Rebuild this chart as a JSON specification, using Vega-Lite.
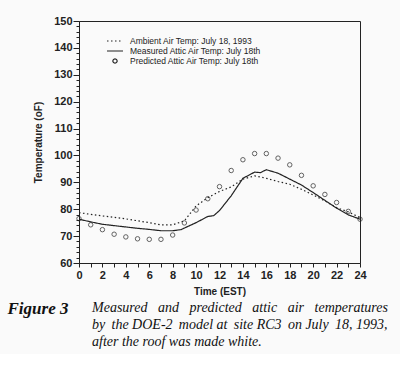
{
  "$schema": "https://vega.github.io/schema/vega-lite/v6.json",
  "width": 281,
  "height": 242,
  "padding": {"left": 7, "top": 15, "right": 20, "bottom": 5},
  "background": "#fafafa",
  "config": {
    "font": "Liberation Sans",
    "view": {"stroke": "#222", "strokeWidth": 1},
    "axis": {"domainColor": "#222", "tickColor": "#222", "labelColor": "#222", "titleColor": "#222", "grid": false}
  },
  "title": {
    "text": [
      "Measured \u00a0\u00a0and \u00a0\u00a0predicted \u00a0\u00a0attic \u00a0\u00a0air \u00a0\u00a0temperatures",
      "by \u2009the DOE-2 \u2009model at \u2009site RC3 \u2009on July \u200918, 1993,",
      "after the roof was made white."
    ],
    "orient": "bottom",
    "anchor": "start",
    "frame": "bounds",
    "dx": 85,
    "offset": -15,
    "font": "Liberation Serif",
    "fontSize": 14,
    "fontStyle": "italic",
    "fontWeight": "normal",
    "lineHeight": 17,
    "color": "#111"
  },
  "data": {
    "values": [
      {"hour": 0, "series": "Ambient Air Temp: July 18, 1993", "temp": 78.7},
      {"hour": 1, "series": "Ambient Air Temp: July 18, 1993", "temp": 78.1},
      {"hour": 2, "series": "Ambient Air Temp: July 18, 1993", "temp": 77.5},
      {"hour": 3, "series": "Ambient Air Temp: July 18, 1993", "temp": 77.0},
      {"hour": 4, "series": "Ambient Air Temp: July 18, 1993", "temp": 76.4},
      {"hour": 5, "series": "Ambient Air Temp: July 18, 1993", "temp": 75.7},
      {"hour": 6, "series": "Ambient Air Temp: July 18, 1993", "temp": 75.0},
      {"hour": 7, "series": "Ambient Air Temp: July 18, 1993", "temp": 74.2},
      {"hour": 8, "series": "Ambient Air Temp: July 18, 1993", "temp": 74.2},
      {"hour": 9, "series": "Ambient Air Temp: July 18, 1993", "temp": 75.7},
      {"hour": 10, "series": "Ambient Air Temp: July 18, 1993", "temp": 81.2},
      {"hour": 11, "series": "Ambient Air Temp: July 18, 1993", "temp": 84.3},
      {"hour": 12, "series": "Ambient Air Temp: July 18, 1993", "temp": 86.6},
      {"hour": 13, "series": "Ambient Air Temp: July 18, 1993", "temp": 88.3},
      {"hour": 14, "series": "Ambient Air Temp: July 18, 1993", "temp": 91.2},
      {"hour": 15, "series": "Ambient Air Temp: July 18, 1993", "temp": 92.4},
      {"hour": 16, "series": "Ambient Air Temp: July 18, 1993", "temp": 91.5},
      {"hour": 17, "series": "Ambient Air Temp: July 18, 1993", "temp": 90.3},
      {"hour": 18, "series": "Ambient Air Temp: July 18, 1993", "temp": 89.3},
      {"hour": 19, "series": "Ambient Air Temp: July 18, 1993", "temp": 87.4},
      {"hour": 20, "series": "Ambient Air Temp: July 18, 1993", "temp": 85.3},
      {"hour": 21, "series": "Ambient Air Temp: July 18, 1993", "temp": 83.1},
      {"hour": 22, "series": "Ambient Air Temp: July 18, 1993", "temp": 80.6},
      {"hour": 23, "series": "Ambient Air Temp: July 18, 1993", "temp": 79.0},
      {"hour": 24, "series": "Ambient Air Temp: July 18, 1993", "temp": 76.9},
      {"hour": 0, "series": "Measured Attic Air Temp: July 18th", "temp": 76.3},
      {"hour": 1, "series": "Measured Attic Air Temp: July 18th", "temp": 75.3},
      {"hour": 2, "series": "Measured Attic Air Temp: July 18th", "temp": 74.4},
      {"hour": 3, "series": "Measured Attic Air Temp: July 18th", "temp": 73.9},
      {"hour": 4, "series": "Measured Attic Air Temp: July 18th", "temp": 73.4},
      {"hour": 5, "series": "Measured Attic Air Temp: July 18th", "temp": 72.9},
      {"hour": 6, "series": "Measured Attic Air Temp: July 18th", "temp": 72.5},
      {"hour": 7, "series": "Measured Attic Air Temp: July 18th", "temp": 72.0},
      {"hour": 8, "series": "Measured Attic Air Temp: July 18th", "temp": 72.0},
      {"hour": 8.7, "series": "Measured Attic Air Temp: July 18th", "temp": 72.4},
      {"hour": 9, "series": "Measured Attic Air Temp: July 18th", "temp": 73.0},
      {"hour": 10, "series": "Measured Attic Air Temp: July 18th", "temp": 75.0},
      {"hour": 11, "series": "Measured Attic Air Temp: July 18th", "temp": 77.3},
      {"hour": 11.5, "series": "Measured Attic Air Temp: July 18th", "temp": 77.6},
      {"hour": 12, "series": "Measured Attic Air Temp: July 18th", "temp": 79.5},
      {"hour": 13, "series": "Measured Attic Air Temp: July 18th", "temp": 85.0},
      {"hour": 14, "series": "Measured Attic Air Temp: July 18th", "temp": 91.5},
      {"hour": 15, "series": "Measured Attic Air Temp: July 18th", "temp": 93.8},
      {"hour": 15.5, "series": "Measured Attic Air Temp: July 18th", "temp": 93.6},
      {"hour": 16, "series": "Measured Attic Air Temp: July 18th", "temp": 94.7},
      {"hour": 17, "series": "Measured Attic Air Temp: July 18th", "temp": 93.4},
      {"hour": 18, "series": "Measured Attic Air Temp: July 18th", "temp": 91.2},
      {"hour": 19, "series": "Measured Attic Air Temp: July 18th", "temp": 89.0},
      {"hour": 20, "series": "Measured Attic Air Temp: July 18th", "temp": 86.2},
      {"hour": 21, "series": "Measured Attic Air Temp: July 18th", "temp": 83.3},
      {"hour": 22, "series": "Measured Attic Air Temp: July 18th", "temp": 80.4},
      {"hour": 23, "series": "Measured Attic Air Temp: July 18th", "temp": 77.9},
      {"hour": 24, "series": "Measured Attic Air Temp: July 18th", "temp": 76.3},
      {"hour": 0, "series": "Predicted Attic Air Temp: July 18th", "temp": 76.5},
      {"hour": 1, "series": "Predicted Attic Air Temp: July 18th", "temp": 74.2},
      {"hour": 2, "series": "Predicted Attic Air Temp: July 18th", "temp": 72.4},
      {"hour": 3, "series": "Predicted Attic Air Temp: July 18th", "temp": 70.7},
      {"hour": 4, "series": "Predicted Attic Air Temp: July 18th", "temp": 69.7},
      {"hour": 5, "series": "Predicted Attic Air Temp: July 18th", "temp": 69.0},
      {"hour": 6, "series": "Predicted Attic Air Temp: July 18th", "temp": 68.8},
      {"hour": 7, "series": "Predicted Attic Air Temp: July 18th", "temp": 68.8},
      {"hour": 8, "series": "Predicted Attic Air Temp: July 18th", "temp": 70.4},
      {"hour": 9, "series": "Predicted Attic Air Temp: July 18th", "temp": 74.9},
      {"hour": 10, "series": "Predicted Attic Air Temp: July 18th", "temp": 79.7},
      {"hour": 11, "series": "Predicted Attic Air Temp: July 18th", "temp": 83.9},
      {"hour": 12, "series": "Predicted Attic Air Temp: July 18th", "temp": 88.4},
      {"hour": 13, "series": "Predicted Attic Air Temp: July 18th", "temp": 94.4},
      {"hour": 14, "series": "Predicted Attic Air Temp: July 18th", "temp": 98.4},
      {"hour": 15, "series": "Predicted Attic Air Temp: July 18th", "temp": 100.7},
      {"hour": 16, "series": "Predicted Attic Air Temp: July 18th", "temp": 100.7},
      {"hour": 17, "series": "Predicted Attic Air Temp: July 18th", "temp": 99.0},
      {"hour": 18, "series": "Predicted Attic Air Temp: July 18th", "temp": 96.5},
      {"hour": 19, "series": "Predicted Attic Air Temp: July 18th", "temp": 92.6},
      {"hour": 20, "series": "Predicted Attic Air Temp: July 18th", "temp": 88.7},
      {"hour": 21, "series": "Predicted Attic Air Temp: July 18th", "temp": 85.5},
      {"hour": 22, "series": "Predicted Attic Air Temp: July 18th", "temp": 82.5},
      {"hour": 23, "series": "Predicted Attic Air Temp: July 18th", "temp": 79.2},
      {"hour": 24, "series": "Predicted Attic Air Temp: July 18th", "temp": 76.3}
    ]
  },
  "resolve": {"axis": {"x": "independent", "y": "independent"}},
  "layer": [
    {
      "transform": [{"filter": "datum.series != 'Predicted Attic Air Temp: July 18th'"}],
      "mark": {"type": "line", "color": "#222", "strokeWidth": 1.2},
      "encoding": {
        "x": {
          "field": "hour", "type": "quantitative",
          "scale": {"domain": [0, 24], "nice": false},
          "axis": {
            "title": "Time (EST)",
            "values": [0,1,2,3,4,5,6,7,8,9,10,11,12,13,14,15,16,17,18,19,20,21,22,23,24],
            "labelExpr": "datum.value % 2 == 0 ? datum.label : ''",
            "tickSize": 4, "labelPadding": 2,
            "labelFontSize": 11, "labelFontWeight": "bold",
            "titleFontSize": 10, "titleFontWeight": "bold", "titlePadding": 6,
            "labelFlush": false, "labelOverlap": false
          }
        },
        "y": {
          "field": "temp", "type": "quantitative",
          "scale": {"domain": [60, 150], "nice": false, "zero": false},
          "axis": {
            "title": "Temperature (oF)",
            "values": [60,70,80,90,100,110,120,130,140,150],
            "tickSize": 6, "labelPadding": 1,
            "labelFontSize": 11, "labelFontWeight": "bold",
            "titleFontSize": 10, "titleFontWeight": "bold", "titlePadding": 10,
            "labelFlush": false
          }
        },
        "strokeDash": {
          "field": "series", "type": "nominal",
          "scale": {
            "domain": ["Ambient Air Temp: July 18, 1993", "Measured Attic Air Temp: July 18th", "Predicted Attic Air Temp: July 18th"],
            "range": [[1.5, 2.5], [1, 0], [1, 0]]
          },
          "legend": {
            "title": null,
            "orient": "none",
            "legendX": 31,
            "legendY": 15,
            "labelFontSize": 8.5,
            "labelColor": "#222",
            "labelOffset": 10,
            "rowPadding": 0,
            "symbolType": "M-2,0H2",
            "symbolSize": 64,
            "symbolStrokeColor": "#222",
            "symbolStrokeWidth": 1.2,
            "symbolFillColor": "transparent",
            "encode": {
              "symbols": {
                "update": {
                  "shape": {"signal": "datum.value === 'Predicted Attic Air Temp: July 18th' ? 'circle' : 'M-2,0H2'"},
                  "size": {"signal": "datum.value === 'Predicted Attic Air Temp: July 18th' ? 18 : 64"}
                }
              }
            }
          }
        }
      }
    },
    {
      "transform": [{"filter": "datum.series == 'Predicted Attic Air Temp: July 18th'"}],
      "mark": {"type": "point", "shape": "circle", "filled": false, "color": "#222", "size": 20, "strokeWidth": 1},
      "encoding": {
        "x": {"field": "hour", "type": "quantitative", "axis": null},
        "y": {"field": "temp", "type": "quantitative", "axis": null}
      }
    },
    {
      "transform": [{"filter": "datum.series == 'Predicted Attic Air Temp: July 18th'"}],
      "mark": {"type": "point", "opacity": 0},
      "encoding": {
        "x": {"field": "hour", "type": "quantitative", "axis": null},
        "y": {
          "field": "temp", "type": "quantitative",
          "axis": {
            "orient": "left",
            "title": "Figure 3",
            "titleAngle": 0,
            "titleAlign": "left",
            "titleBaseline": "alphabetic",
            "titleX": -72,
            "titleY": 292,
            "titleFont": "Liberation Serif",
            "titleFontSize": 17,
            "titleFontStyle": "italic",
            "titleFontWeight": "bold",
            "titleColor": "#111",
            "labels": false,
            "domain": false,
            "tickSize": 3,
            "values": [62,64,66,68,72,74,76,78,82,84,86,88,92,94,96,98,102,104,106,108,112,114,116,118,122,124,126,128,132,134,136,138,142,144,146,148]
          }
        }
      }
    }
  ]
}
